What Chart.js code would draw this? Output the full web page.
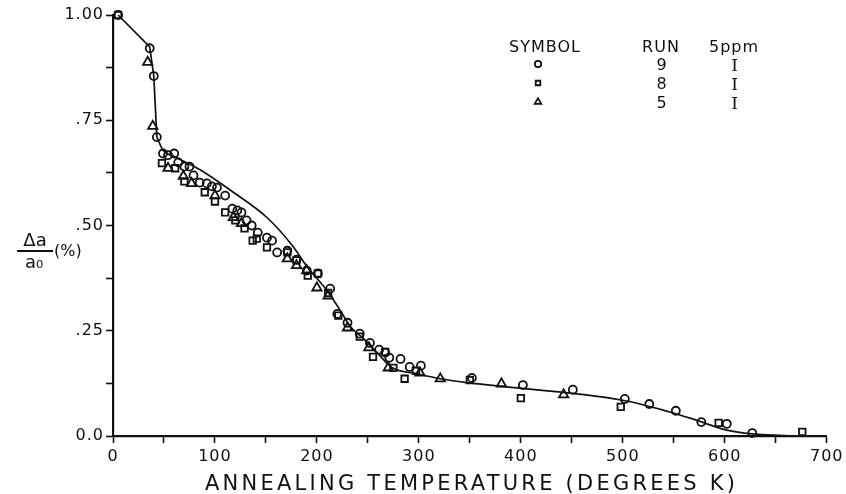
<!DOCTYPE html>
<html>
<head>
<meta charset="utf-8">
<script src="https://cdn.jsdelivr.net/npm/chart.js@4.4.1/dist/chart.umd.min.js"></script>
<style>
  html, body { margin: 0; padding: 0; background: #fff; }
  #wrap { width: 846px; height: 494px; }
</style>
</head>
<body>
<div id="wrap"><canvas id="chart" width="846" height="494"></canvas></div>
<script>
// fitted curve: straight drop first, then smooth part
const steepX = [5, 36, 40, 43];
const steepY = [1.0, 0.924, 0.855, 0.71];
const curveX = [43, 49, 60, 85, 118, 151, 176, 191, 210, 225, 232, 245, 259, 274, 298, 321, 350, 500, 546, 569, 602, 627, 674];
const curveY = [0.71, 0.679, 0.664, 0.633, 0.579, 0.519, 0.452, 0.40, 0.345, 0.29, 0.262, 0.233, 0.198, 0.162, 0.148, 0.136, 0.126, 0.085, 0.057, 0.04, 0.014, 0.005, 0.0];

// run 9 (circles)
const run9X = [5, 36, 40, 43, 49, 54, 60, 64, 70, 75, 79, 85, 92, 97, 102, 110, 117, 122, 126, 131, 136, 142, 151, 156, 161, 171, 180, 190, 201, 213, 220, 230, 242, 252, 261, 267, 271, 282, 291, 302, 352, 402, 451, 502, 526, 552, 577, 602, 627, 675];
const run9Y = [1.0, 0.921, 0.855, 0.71, 0.671, 0.667, 0.671, 0.65, 0.64, 0.64, 0.619, 0.602, 0.60, 0.593, 0.59, 0.571, 0.54, 0.536, 0.531, 0.512, 0.50, 0.483, 0.471, 0.464, 0.436, 0.44, 0.419, 0.393, 0.386, 0.35, 0.29, 0.269, 0.243, 0.221, 0.205, 0.198, 0.186, 0.183, 0.164, 0.167, 0.138, 0.121, 0.11, 0.088, 0.076, 0.06, 0.033, 0.029, 0.007, -0.014];

// run 8 (squares)
const run8X = [5, 48, 61, 70, 90, 100, 110, 120, 129, 137, 141, 151, 171, 180, 191, 201, 211, 221, 242, 255, 267, 275, 286, 297, 350, 400, 498, 594, 676];
const run8Y = [1.0, 0.648, 0.636, 0.605, 0.579, 0.557, 0.531, 0.512, 0.493, 0.464, 0.469, 0.448, 0.436, 0.417, 0.381, 0.386, 0.34, 0.286, 0.236, 0.188, 0.2, 0.162, 0.136, 0.155, 0.133, 0.09, 0.069, 0.031, 0.01];

// run 5 (triangles)
const run5X = [34, 39, 54, 69, 77, 100, 118, 126, 171, 180, 190, 200, 211, 230, 251, 270, 301, 321, 381, 442];
const run5Y = [0.888, 0.736, 0.636, 0.617, 0.60, 0.571, 0.519, 0.505, 0.421, 0.405, 0.393, 0.352, 0.333, 0.257, 0.21, 0.162, 0.15, 0.136, 0.124, 0.098];

const yTickValues = [0, 0.25, 0.5, 0.75, 1.0];
const yTickLabels = ['0.0', '.25', '.50', '.75', '1.00'];
const xTickValues = [0, 100, 200, 300, 400, 500, 600, 700];

const legendHeaders = ['SYMBOL', 'RUN', '5ppm'];
const legendSymbols = ['circle', 'rect', 'triangle'];
const legendRuns = ['9', '8', '5'];
const legendConc = ['I', 'I', 'I'];

const xTitle = 'ANNEALING TEMPERATURE (DEGREES K)';

const toPts = (xs, ys) => xs.map((x, i) => ({ x: x, y: ys[i] }));
const ink = '#111';

const extras = {
  id: 'extras',
  beforeDraw(chart) {
    const ctx = chart.ctx;
    ctx.save();
    ctx.fillStyle = '#fff';
    ctx.fillRect(0, 0, chart.width, chart.height);
    ctx.restore();
    ctx.letterSpacing = '1px';
  },
  afterDraw(chart) {
    const ctx = chart.ctx;
    ctx.save();
    ctx.fillStyle = ink;
    ctx.strokeStyle = ink;

    // y title as fraction
    ctx.font = '18px "DejaVu Sans"';
    ctx.textAlign = 'center';
    ctx.textBaseline = 'alphabetic';
    ctx.letterSpacing = '0px';
    ctx.fillText('\u0394a', 35, 246);
    ctx.lineWidth = 2;
    ctx.beginPath();
    ctx.moveTo(17, 251);
    ctx.lineTo(53, 251);
    ctx.stroke();
    ctx.fillText('a\u2080', 34, 268);
    ctx.font = '16px "DejaVu Sans"';
    ctx.textAlign = 'left';
    ctx.fillText('(%)', 54, 256);

    // x title
    ctx.font = '21px "DejaVu Sans"';
    ctx.textAlign = 'left';
    ctx.letterSpacing = '0px';
    const w = ctx.measureText(xTitle).width;
    const sp = (530 - w) / (xTitle.length - 1);
    ctx.letterSpacing = sp + 'px';
    ctx.fillText(xTitle, 205, 490);

    // legend table
    ctx.letterSpacing = '1px';
    ctx.font = '16px "DejaVu Sans"';
    ctx.textAlign = 'center';
    const cols = [545, 661, 734];
    legendHeaders.forEach((h, i) => ctx.fillText(h, cols[i], 52));
    const rows = [64, 83, 102];
    legendSymbols.forEach((s, i) => {
      ctx.lineWidth = 1.8;
      ctx.fillStyle = '#fff';
      Chart.helpers.drawPoint(ctx, { pointStyle: s, radius: s === 'triangle' ? 3.8 : 3.2, rotation: 0, borderWidth: 1.8 }, 538, rows[i]);
      ctx.fillStyle = ink;
      ctx.fillText(legendRuns[i], 662, rows[i] + 6);
      ctx.font = '17px "DejaVu Serif"';
      ctx.fillText(legendConc[i], 735, rows[i] + 7);
      ctx.font = '16px "DejaVu Sans"';
    });
    ctx.restore();
  }
};

const markerBase = {
  type: 'scatter',
  borderColor: ink,
  backgroundColor: 'rgba(255,255,255,0)',
  pointBorderWidth: 1.8,
  pointHoverRadius: 4,
  clip: false,
  showLine: false
};

const lineBase = {
  type: 'line',
  borderColor: ink,
  borderWidth: 1.7,
  pointRadius: 0,
  fill: false,
  clip: false
};

new Chart(document.getElementById('chart'), {
  data: {
    datasets: [
      Object.assign({}, lineBase, { label: 'fit drop', data: toPts(steepX, steepY), tension: 0 }),
      Object.assign({}, lineBase, { label: 'fit', data: toPts(curveX, curveY), cubicInterpolationMode: 'monotone' }),
      Object.assign({}, markerBase, { label: 'Run 9', data: toPts(run9X, run9Y), pointStyle: 'circle', pointRadius: 4 }),
      Object.assign({}, markerBase, { label: 'Run 8', data: toPts(run8X, run8Y), pointStyle: 'rect', pointRadius: 4.6 }),
      Object.assign({}, markerBase, { label: 'Run 5', data: toPts(run5X, run5Y), pointStyle: 'triangle', pointRadius: 5.4 })
    ]
  },
  options: {
    responsive: false,
    animation: false,
    devicePixelRatio: 1,
    layout: { padding: { top: 15, right: 19, left: 0, bottom: 0 } },
    plugins: {
      legend: { display: false },
      tooltip: { enabled: false },
      title: { display: false }
    },
    scales: {
      x: {
        type: 'linear',
        min: 0,
        max: 700,
        afterFit: s => { s.height = 58; },
        afterBuildTicks: s => {
          const t = [];
          for (let v = 0; v <= 700; v += 50) t.push({ value: v });
          s.ticks = t;
        },
        ticks: {
          color: ink,
          font: { family: 'DejaVu Sans', size: 16 },
          padding: 4,
          maxRotation: 0,
          autoSkip: false,
          callback: v => (xTickValues.includes(v) ? String(v) : '')
        },
        grid: { drawOnChartArea: false, drawTicks: true, tickLength: 7, tickWidth: 1.6, tickColor: ink },
        border: { display: true, color: ink, width: 2.2 }
      },
      y: {
        min: 0,
        max: 1.0,
        afterFit: s => { s.width = 113; },
        afterBuildTicks: s => {
          const t = [];
          for (let i = 0; i <= 8; i++) t.push({ value: i * 0.125 });
          s.ticks = t;
        },
        ticks: {
          color: ink,
          font: { family: 'DejaVu Sans', size: 16 },
          padding: 2,
          autoSkip: false,
          callback: v => {
            const k = yTickValues.findIndex(t => Math.abs(t - v) < 1e-6);
            return k >= 0 ? yTickLabels[k] : '';
          }
        },
        grid: { drawOnChartArea: false, drawTicks: true, tickLength: 7, tickWidth: 1.6, tickColor: ink },
        border: { display: true, color: ink, width: 2.2 }
      }
    }
  },
  plugins: [extras]
});
</script>
</body>
</html>
